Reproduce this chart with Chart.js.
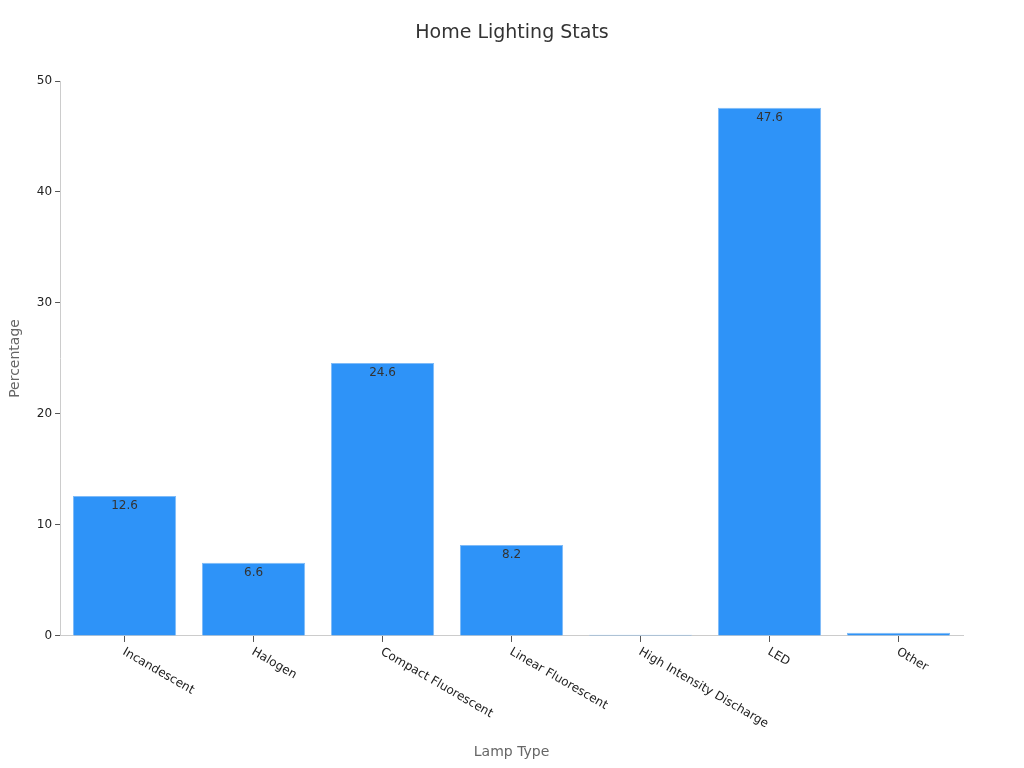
<!DOCTYPE html>
<html><head><meta charset="utf-8">
<script src="https://cdn.jsdelivr.net/npm/chart.js@4.4.0/dist/chart.umd.min.js"></script>
<style>html,body{margin:0;padding:0;background:#fff}#wrap{width:1024px;height:768px}</style>
</head><body><div id="wrap"><canvas id="c"></canvas></div>
<script>
const categories = ["Incandescent","Halogen","Compact Fluorescent","Linear Fluorescent","High Intensity Discharge","LED","Other"];
const percentages = [12.6, 6.6, 24.6, 8.2, 0.1, 47.6, 0.3];
const yTicks = [0,10,20,30,40,50];
const chartTitle = "Home Lighting Stats";

Chart.defaults.font.family = "DejaVu Sans";
const labelPlugin = {
  id:'lbl',
  afterDatasetsDraw(chart){
    const ctx = chart.ctx;
    const meta = chart.getDatasetMeta(0);
    ctx.save();
    ctx.font = "12px DejaVu Sans";
    ctx.fillStyle = "#333";
    ctx.textAlign = "center";
    ctx.textBaseline = "top";
    meta.data.forEach((bar,i)=>{
      const v = percentages[i];
      if (v < 1) return;
      ctx.fillText(String(v), bar.x, bar.y + 4);
    });
    ctx.restore();
  },
  afterDraw(chart){
    const ctx = chart.ctx;
    const xs = chart.scales.x;
    ctx.save();
    ctx.font = "12px DejaVu Sans";
    ctx.fillStyle = "#222";
    ctx.textAlign = "left";
    ctx.textBaseline = "top";
    categories.forEach((c,i)=>{
      const x = xs.getPixelForTick(i);
      ctx.save();
      ctx.translate(x + 2, xs.top + 10);
      ctx.rotate(Math.PI/6);
      ctx.fillText(c, 0, 0);
      ctx.restore();
    });
    ctx.font = "19px DejaVu Sans";
    ctx.fillStyle = "#333";
    ctx.textAlign = "center";
    ctx.textBaseline = "middle";
    ctx.fillText(chartTitle, chart.width/2, 33);
    ctx.restore();
  }
};
new Chart(document.getElementById('c'), {
  type:'bar',
  data:{labels:categories, datasets:[{data:percentages, backgroundColor:'#2E93F8', borderColor:'#7FBBF8', borderWidth:1, barPercentage:1, categoryPercentage:0.8}]},
  options:{
    responsive:true, maintainAspectRatio:false, animation:false,
    layout:{padding:{left:3,right:61,top:81,bottom:3}},
    plugins:{
      legend:{display:false},
      tooltip:{enabled:false},
      title:{display:false}
    },
    scales:{
      x:{
        grid:{display:true,drawOnChartArea:false,tickLength:6,color:'#555',offset:false},
        border:{color:'#ccc'},
        ticks:{color:'transparent',font:{size:12},maxRotation:30,minRotation:30,padding:2},
        title:{display:true,text:'Lamp Type',color:'#666',font:{size:14},padding:{top:12}}
      },
      y:{
        min:0,max:50,
        afterBuildTicks(axis){axis.ticks = yTicks.map(v=>({value:v}));},
        grid:{display:true,drawOnChartArea:false,tickLength:5,color:'#555'},
        border:{color:'#ccc'},
        ticks:{color:'#222',font:{size:12},padding:3},
        title:{display:true,text:'Percentage',color:'#666',font:{size:14},padding:{bottom:10}}
      }
    }
  },
  plugins:[labelPlugin]
});
</script></body></html>
